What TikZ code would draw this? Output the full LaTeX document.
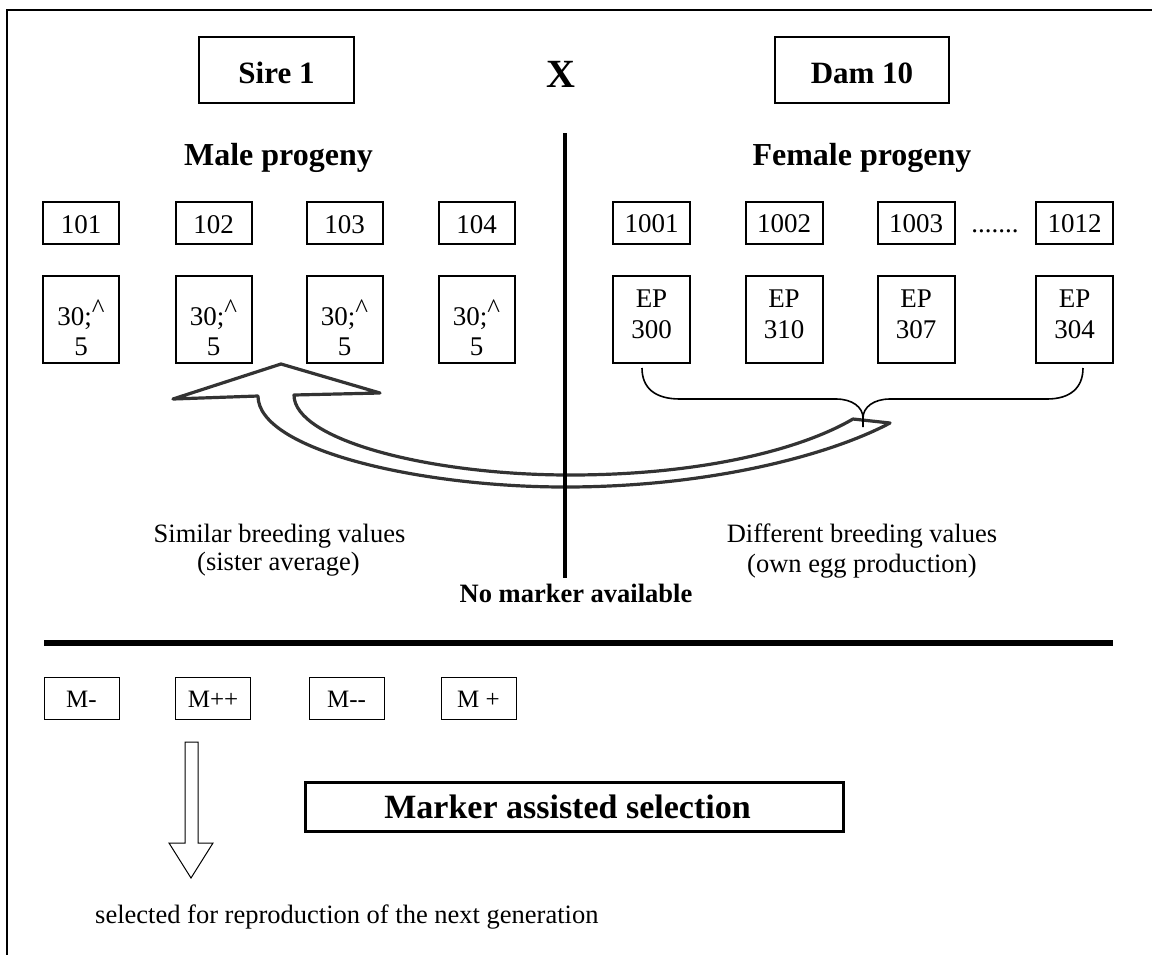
\documentclass[tikz,border=0pt]{standalone}
\usepackage{fontspec}
\setmainfont{Liberation Serif}
\begin{document}
\begin{tikzpicture}[x=1pt,y=-1pt,
  box/.style={draw=black, line width=2pt, inner sep=0pt},
  thinbox/.style={draw=black, line width=0.9pt, inner sep=0pt},
  bigbox/.style={draw=black, line width=3pt, inner sep=0pt},
  tb/.style={inner sep=0pt, anchor=base, font={\fontsize{27}{31}\selectfont}},
  tm/.style={inner sep=0pt, anchor=base, font={\fontsize{25}{29}\selectfont}},
  tl/.style={inner sep=0pt, anchor=base, font={\fontsize{26.5}{30}\selectfont}},
  hd/.style={inner sep=0pt, anchor=base, font={\fontsize{31}{36}\selectfont\bfseries}},
  hp/.style={inner sep=0pt, anchor=base, font={\fontsize{32}{37}\selectfont\bfseries}},
  bigarrow/.style={draw=black!80, line width=3.2pt, line join=round},
  bracestyle/.style={draw=black, line width=1.6pt},
]
\useasboundingbox (0,0) rectangle (1152,954);

% frame
\draw[line width=1.5pt] (1153,10) -- (7,10) -- (7,955);

% parents
\node[box, minimum width=155pt, minimum height=66pt] (sire) at (276.5,70) {};
\node[hd] (siret) at (276.5,83) {Sire 1};
\node[inner sep=0pt, anchor=base, font={\fontsize{40}{46}\selectfont\bfseries}] (cross) at (561,87) {X};
\node[box, minimum width=174pt, minimum height=66pt] (dam) at (862,70) {};
\node[hd] (damt) at (862,83) {Dam 10};

% headings
\node[hp] (male) at (278.5,165) {Male progeny};
\node[hp] (female) at (862,165) {Female progeny};

% male progeny
\foreach \x/\n [count=\i] in {81/101, 213.5/102, 344.5/103, 476.5/104} {
  \node[box, minimum width=76pt, minimum height=42pt] (m\i) at (\x,223) {};
  \node[tb] (mt\i) at (\x,233) {\n};
  \node[box, minimum width=76pt, minimum height=87pt] (s\i) at (\x,319.5) {};
  \node[tb] (sa\i) at (\x,325) {30;\raisebox{8pt}{\textasciicircum}};
  \node[tb] (sb\i) at (\x,355) {5};
}

% female progeny
\foreach \x/\n/\v [count=\i] in {651.5/1001/300, 784/1002/310, 916/1003/307, 1074.5/1012/304} {
  \node[box, minimum width=77pt, minimum height=42pt] (f\i) at (\x,223) {};
  \node[tb] (ft\i) at (\x,232) {\n};
  \node[box, minimum width=77pt, minimum height=87pt] (e\i) at (\x,319.5) {};
  \node[tb] (ea\i) at (\x,307) {EP};
  \node[tb] (eb\i) at (\x,338) {\v};
}
\node[tb] (dots) at (995,232) {.......};

% big curved hollow arrow
\draw[bigarrow] (258,396) -- (173,399) -- (281,364) -- (380,393) -- (294,395)
  .. controls (294,440) and (430,475) .. (570,475)
  .. controls (700,475) and (800,450) .. (853,419)
  -- (890,423)
  .. controls (830,455) and (710,487) .. (565,487)
  .. controls (420,487) and (258,450) .. (258,396) -- cycle;

% brace under the female boxes
\draw[bracestyle] (642,368) .. controls (642,388) and (655,399) .. (680,399)
  -- (836,399) .. controls (852,399) and (863,407) .. (863,418) -- (863,427);
\draw[bracestyle] (863,418) .. controls (863,407) and (874,399) .. (890,399)
  -- (1047,399) .. controls (1070,399) and (1083,388) .. (1083,368);

% divider
\coordinate (divtop) at (565,133);
\coordinate (divbot) at (565,578);
\draw[line width=3.5pt] (divtop) -- (divbot);

% labels
\node[tl] (sim1) at (279.5,542) {Similar breeding values};
\node[tl] (sim2) at (278.5,570) {(sister average)};
\node[tl] (dif1) at (862,542) {Different breeding values};
\node[tl] (dif2) at (862,572) {(own egg production)};
\node[inner sep=0pt, anchor=base, font={\fontsize{26.5}{30}\selectfont\bfseries}] (nomark) at (576,602) {No marker available};

% thick separator
\coordinate (sepl) at (44,643);
\coordinate (sepr) at (1113,643);
\draw[line width=5.5pt] (sepl) -- (sepr);

% marker boxes
\foreach \x/\n [count=\i] in {81.5/M-, 213/M++, 346.5/M-{}-, 478.5/M +} {
  \node[thinbox, minimum width=75pt, minimum height=42pt] (k\i) at (\x,698) {};
  \node[tm] (kt\i) at (\x,707) {\n};
}

% hollow down arrow
\draw[line width=1pt, line join=miter] (185,742) -- (198,742) -- (198,843) -- (213,843)
  -- (191,878) -- (169,843) -- (185,843) -- cycle;

% marker assisted selection
\node[bigbox, minimum width=538pt, minimum height=49pt] (mas) at (574,806.5) {};
\node[inner sep=0pt, anchor=base, font={\fontsize{34}{39}\selectfont\bfseries}] (mast) at (567.5,818) {Marker assisted selection};

\node[inner sep=0pt, anchor=base west, font={\fontsize{26.5}{30}\selectfont}] (sel) at (95,923) {selected for reproduction of the next generation};
\end{tikzpicture}
\end{document}
